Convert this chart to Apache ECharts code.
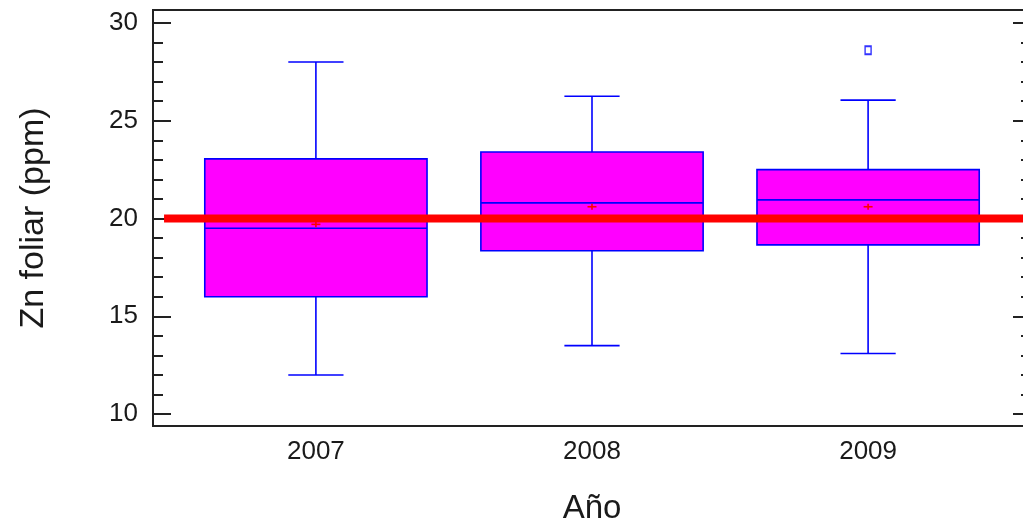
<!DOCTYPE html>
<html>
<head>
<meta charset="utf-8">
<script src="https://cdn.jsdelivr.net/npm/echarts@6/dist/echarts.min.js"></script>
<style>
html,body{margin:0;padding:0;background:#fff;}
#chart{width:1023px;height:523px;}
</style>
</head>
<body>
<div id="chart"></div>
<script>
// ---- data ----
const categories = ['2007', '2008', '2009'];
const years = [2007, 2008, 2009];
const whiskerLow = [12.0, 13.5, 13.1];
const q1 = [16.0, 18.35, 18.65];
const median = [19.5, 20.8, 20.95];
const q3 = [23.05, 23.4, 22.5];
const whiskerHigh = [28.0, 26.25, 26.05];
const means = [19.7, 20.6, 20.6];
const outlierX = [2009];
const outlierY = [28.6];
const referenceLevel = 20;
const referenceFrom = 2006.45;
const referenceTo = 2009.59;
const yTicks = [10, 15, 20, 25, 30];
const yMinorTicks = [11, 12, 13, 14, 16, 17, 18, 19, 21, 22, 23, 24, 26, 27, 28, 29];

// ---- build ----
const boxData = years.map((y, i) => [y, whiskerLow[i], q1[i], median[i], q3[i], whiskerHigh[i], means[i]]);
const outlierData = outlierX.map((x, i) => [x, outlierY[i]]);

const FONT = '"Liberation Sans", Arial, sans-serif';
const TXT = '#1a1a1a';
const AXIS = '#222';
const BLUE = '#0000ff';
const BOX_W = 0.805, CAP_W = 0.2;

const chart = echarts.init(document.getElementById('chart'));

function yAxisBase(extra) {
  return Object.assign({
    type: 'value', min: 9.39, max: 30.66, splitLine: {show: false},
    axisLine: {show: true, onZero: false, lineStyle: {color: AXIS, width: 2}},
    axisLabel: {show: false},
    axisTick: {show: false}
  }, extra);
}

const option = {
  animation: false,
  backgroundColor: '#fff',
  grid: {left: 153, top: 10, width: 878, height: 416, containLabel: false, outerBoundsMode: 'none'},
  xAxis: [{
    type: 'value', min: 2006.41, max: 2009.59,
    splitLine: {show: false},
    axisLine: {show: true, onZero: false, lineStyle: {color: AXIS, width: 2}},
    axisTick: {show: false},
    axisLabel: {
      show: true, customValues: years,
      formatter: v => categories[years.indexOf(Math.round(v))] || '',
      fontFamily: FONT, fontSize: 26, color: TXT, margin: 13
    },
    name: 'Año', nameLocation: 'middle', nameGap: 66,
    nameTextStyle: {fontFamily: FONT, fontSize: 33, color: TXT}
  }, {
    type: 'value', min: 2006.41, max: 2009.59, position: 'top',
    splitLine: {show: false},
    axisLine: {show: true, onZero: false, lineStyle: {color: AXIS, width: 2}},
    axisTick: {show: false}, axisLabel: {show: false}
  }],
  yAxis: [
    yAxisBase({
      position: 'left',
      axisTick: {show: true, inside: true, length: 18, customValues: yTicks, lineStyle: {color: AXIS, width: 2}},
      axisLabel: {show: true, customValues: yTicks, fontFamily: FONT, fontSize: 26, color: TXT, margin: 15},
      name: 'Zn foliar (ppm)', nameLocation: 'middle', nameGap: 102,
      nameTextStyle: {fontFamily: FONT, fontSize: 34, color: TXT}
    }),
    yAxisBase({
      position: 'left',
      axisTick: {show: true, inside: true, length: 10, customValues: yMinorTicks, lineStyle: {color: AXIS, width: 2}}
    }),
    yAxisBase({
      position: 'right',
      axisTick: {show: true, inside: true, length: 18, customValues: yTicks, lineStyle: {color: AXIS, width: 2}}
    }),
    yAxisBase({
      position: 'right',
      axisTick: {show: true, inside: true, length: 10, customValues: yMinorTicks, lineStyle: {color: AXIS, width: 2}}
    })
  ],
  series: [
    {
      type: 'custom',
      xAxisIndex: 0, yAxisIndex: 0,
      data: boxData,
      encode: {x: 0, y: [1, 2, 3, 4, 5, 6]},
      z: 2,
      renderItem: function (params, api) {
        const x = api.value(0);
        const pLo = api.coord([x, api.value(1)]);
        const pQ1 = api.coord([x, api.value(2)]);
        const pMed = api.coord([x, api.value(3)]);
        const pQ3 = api.coord([x, api.value(4)]);
        const pHi = api.coord([x, api.value(5)]);
        const pMean = api.coord([x, api.value(6)]);
        const bw = api.size([BOX_W, 0])[0];
        const cw = api.size([CAP_W, 0])[0];
        const cx = pMed[0];
        const lineStyle = {stroke: BLUE, lineWidth: 1.6, fill: null};
        const plusStyle = {stroke: '#ff0000', lineWidth: 1.6, fill: null};
        return {
          type: 'group',
          children: [
            {type: 'line', shape: {x1: cx, y1: pHi[1], x2: cx, y2: pQ3[1]}, style: lineStyle},
            {type: 'line', shape: {x1: cx, y1: pQ1[1], x2: cx, y2: pLo[1]}, style: lineStyle},
            {type: 'line', shape: {x1: cx - cw / 2, y1: pHi[1], x2: cx + cw / 2, y2: pHi[1]}, style: lineStyle},
            {type: 'line', shape: {x1: cx - cw / 2, y1: pLo[1], x2: cx + cw / 2, y2: pLo[1]}, style: lineStyle},
            {type: 'rect', shape: {x: cx - bw / 2, y: pQ3[1], width: bw, height: pQ1[1] - pQ3[1]},
              style: {fill: '#ff00ff', stroke: BLUE, lineWidth: 1.6}},
            {type: 'line', shape: {x1: cx - bw / 2, y1: pMed[1], x2: cx + bw / 2, y2: pMed[1]}, style: lineStyle},
            {type: 'line', shape: {x1: cx - 4.5, y1: pMean[1], x2: cx + 4.5, y2: pMean[1]}, style: plusStyle},
            {type: 'line', shape: {x1: cx, y1: pMean[1] - 3, x2: cx, y2: pMean[1] + 3}, style: plusStyle}
          ]
        };
      }
    },
    {
      type: 'scatter',
      xAxisIndex: 0, yAxisIndex: 0,
      data: outlierData,
      symbol: 'rect', symbolSize: [6, 8],
      itemStyle: {color: '#ffffff', borderColor: BLUE, borderWidth: 1.6},
      z: 3
    },
    {
      type: 'line',
      xAxisIndex: 0, yAxisIndex: 0,
      data: [[referenceFrom, referenceLevel], [referenceTo, referenceLevel]],
      showSymbol: false, symbol: 'none',
      lineStyle: {color: '#ff0000', width: 8},
      z: 5
    }
  ]
};
chart.setOption(option);
</script>
</body>
</html>
